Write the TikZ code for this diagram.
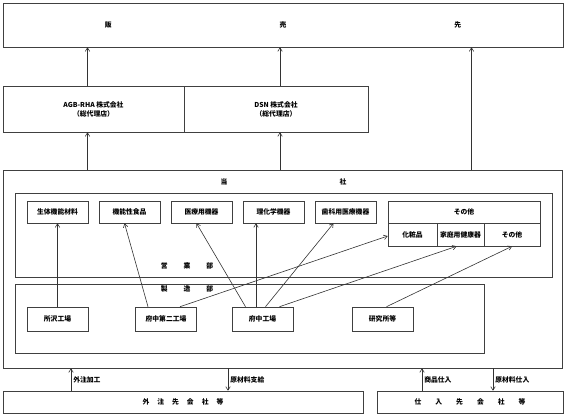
\documentclass[tikz,border=0pt]{standalone}
\usepackage{fontspec}
\setmainfont{Noto Sans CJK JP}
\usetikzlibrary{shapes, arrows, arrows.meta, positioning, calc}

\begin{document}
\begin{tikzpicture}[x=1pt, y=-1pt, every node/.style={font=\fontsize{6.8pt}{9pt}\selectfont\bfseries}]
    \tikzstyle{frame} = [draw=black!75, line width=0.6pt, rectangle]
    \tikzstyle{unit} = [frame, minimum width=61pt, minimum height=22pt, inner sep=1pt, align=center]
    \tikzstyle{flow} = [-{Straight Barb[length=3.5pt, width=4.5pt]}, draw=black!80, line width=0.6pt]

    \useasboundingbox (0,0) rectangle (567,418);

    % customers and agents
    \node[frame, minimum width=560pt, minimum height=44pt] (sales) at (283,25) {販\hspace{168pt}売\hspace{168pt}先};
    \node[frame, minimum width=181pt, minimum height=46pt, align=center] (agb) at (93.5,109) {AGB-RHA\ 株式会社\\（総代理店）};
    \node[frame, minimum width=184pt, minimum height=46pt, align=center] (dsn) at (276,109) {DSN\ 株式会社\\（総代理店）};

    % company
    \node[frame, minimum width=559pt, minimum height=198pt] (tosha) at (282.5,269) {};
    \node (toshalbl) at (283.5,182) {当\hspace{112pt}社};
    \node[frame, minimum width=537pt, minimum height=84pt] (eigyo) at (283.5,235) {};
    \node (eigyolbl) at (187,266) {営\hspace{16pt}業\hspace{16pt}部};
    \node[frame, minimum width=469pt, minimum height=69pt] (seizo) at (249.5,318.5) {};
    \node (seizolbl) at (187,289) {製\hspace{16pt}造\hspace{16pt}部};

    % products
    \node[unit] (bio) at (57.5,212) {生体機能材料};
    \node[unit] (food) at (129.5,212) {機能性食品};
    \node[unit] (med) at (201.5,212) {医療用機器};
    \node[unit] (chem) at (273.5,212) {理化学機器};
    \node[unit] (dent) at (345.5,212) {歯科用医療機器};
    \node[unit, minimum width=152pt] (othr) at (464,212) {その他};
    \node[unit, minimum width=49pt, minimum height=23pt] (cosm) at (412.5,234.5) {化粧品};
    \node[unit, minimum width=47pt, minimum height=23pt] (home) at (460.5,234.5) {家庭用健康器};
    \node[unit, minimum width=56pt, minimum height=23pt] (misc) at (512,234.5) {その他};

    % plants
    \node[unit, minimum height=24pt] (toko) at (57.5,319) {所沢工場};
    \node[unit, minimum height=24pt] (fuchu2) at (166,319) {府中第二工場};
    \node[unit, minimum height=24pt] (fuchu) at (262.5,319) {府中工場};
    \node[unit, minimum height=24pt] (lab) at (382.5,319) {研究所等};

    % suppliers
    \node[frame, minimum width=360pt, minimum height=22pt] (outsrc) at (183,402) {外\hspace{8pt}注\hspace{8pt}先\hspace{8pt}会\hspace{8pt}社\hspace{8pt}等};
    \node[frame, minimum width=186pt, minimum height=22pt] (supply) at (470,402) {仕\hspace{14pt}入\hspace{14pt}先\hspace{14pt}会\hspace{14pt}社\hspace{14pt}等};

    % sales flow
    \draw[flow] ([xshift=-6pt]agb.north) -- ([xshift=-6pt]agb.north |- sales.south);
    \draw[flow] ([xshift=4pt]dsn.north) -- ([xshift=4pt]dsn.north |- sales.south);
    \draw[flow] ([xshift=189pt]tosha.north) -- ([xshift=189pt]tosha.north |- sales.south);
    \draw[flow] ([xshift=-6pt]agb.south |- tosha.north) -- ([xshift=-6pt]agb.south);
    \draw[flow] ([xshift=4pt]dsn.south |- tosha.north) -- ([xshift=4pt]dsn.south);

    % plants to products
    \draw[flow] (toko.north) -- (bio.south);
    \draw[flow] ([xshift=-18pt]fuchu2.north) -- ([xshift=-5pt]food.south);
    \draw[flow] ([xshift=14pt]fuchu2.north) -- ([yshift=-1.5pt]cosm.west);
    \draw[flow] ([xshift=-17pt]fuchu.north) -- ([xshift=-5pt]med.south);
    \draw[flow] ([xshift=-6.5pt]fuchu.north) -- ([xshift=-17.5pt]chem.south);
    \draw[flow] ([xshift=3pt]fuchu.north) -- ([xshift=-12pt]dent.south);
    \draw[flow] ([xshift=17pt]fuchu.north) -- ([xshift=-4pt]home.south);
    \draw[flow] ([xshift=4pt]lab.north) -- (misc.south);

    % purchase flow
    \draw[flow] ([xshift=-112pt]outsrc.north) -- ([xshift=-112pt]outsrc.north |- tosha.south) node[midway, right, inner sep=2pt] {外注加工};
    \draw[flow] ([xshift=45pt]outsrc.north |- tosha.south) -- ([xshift=45pt]outsrc.north) node[midway, right, inner sep=2pt] {原材料支給};
    \draw[flow] ([xshift=-48pt]supply.north) -- ([xshift=-48pt]supply.north |- tosha.south) node[midway, right, inner sep=2pt] {商品仕入};
    \draw[flow] ([xshift=23pt]supply.north |- tosha.south) -- ([xshift=23pt]supply.north) node[midway, right, inner sep=2pt] {原材料仕入};
\end{tikzpicture}
\end{document}
